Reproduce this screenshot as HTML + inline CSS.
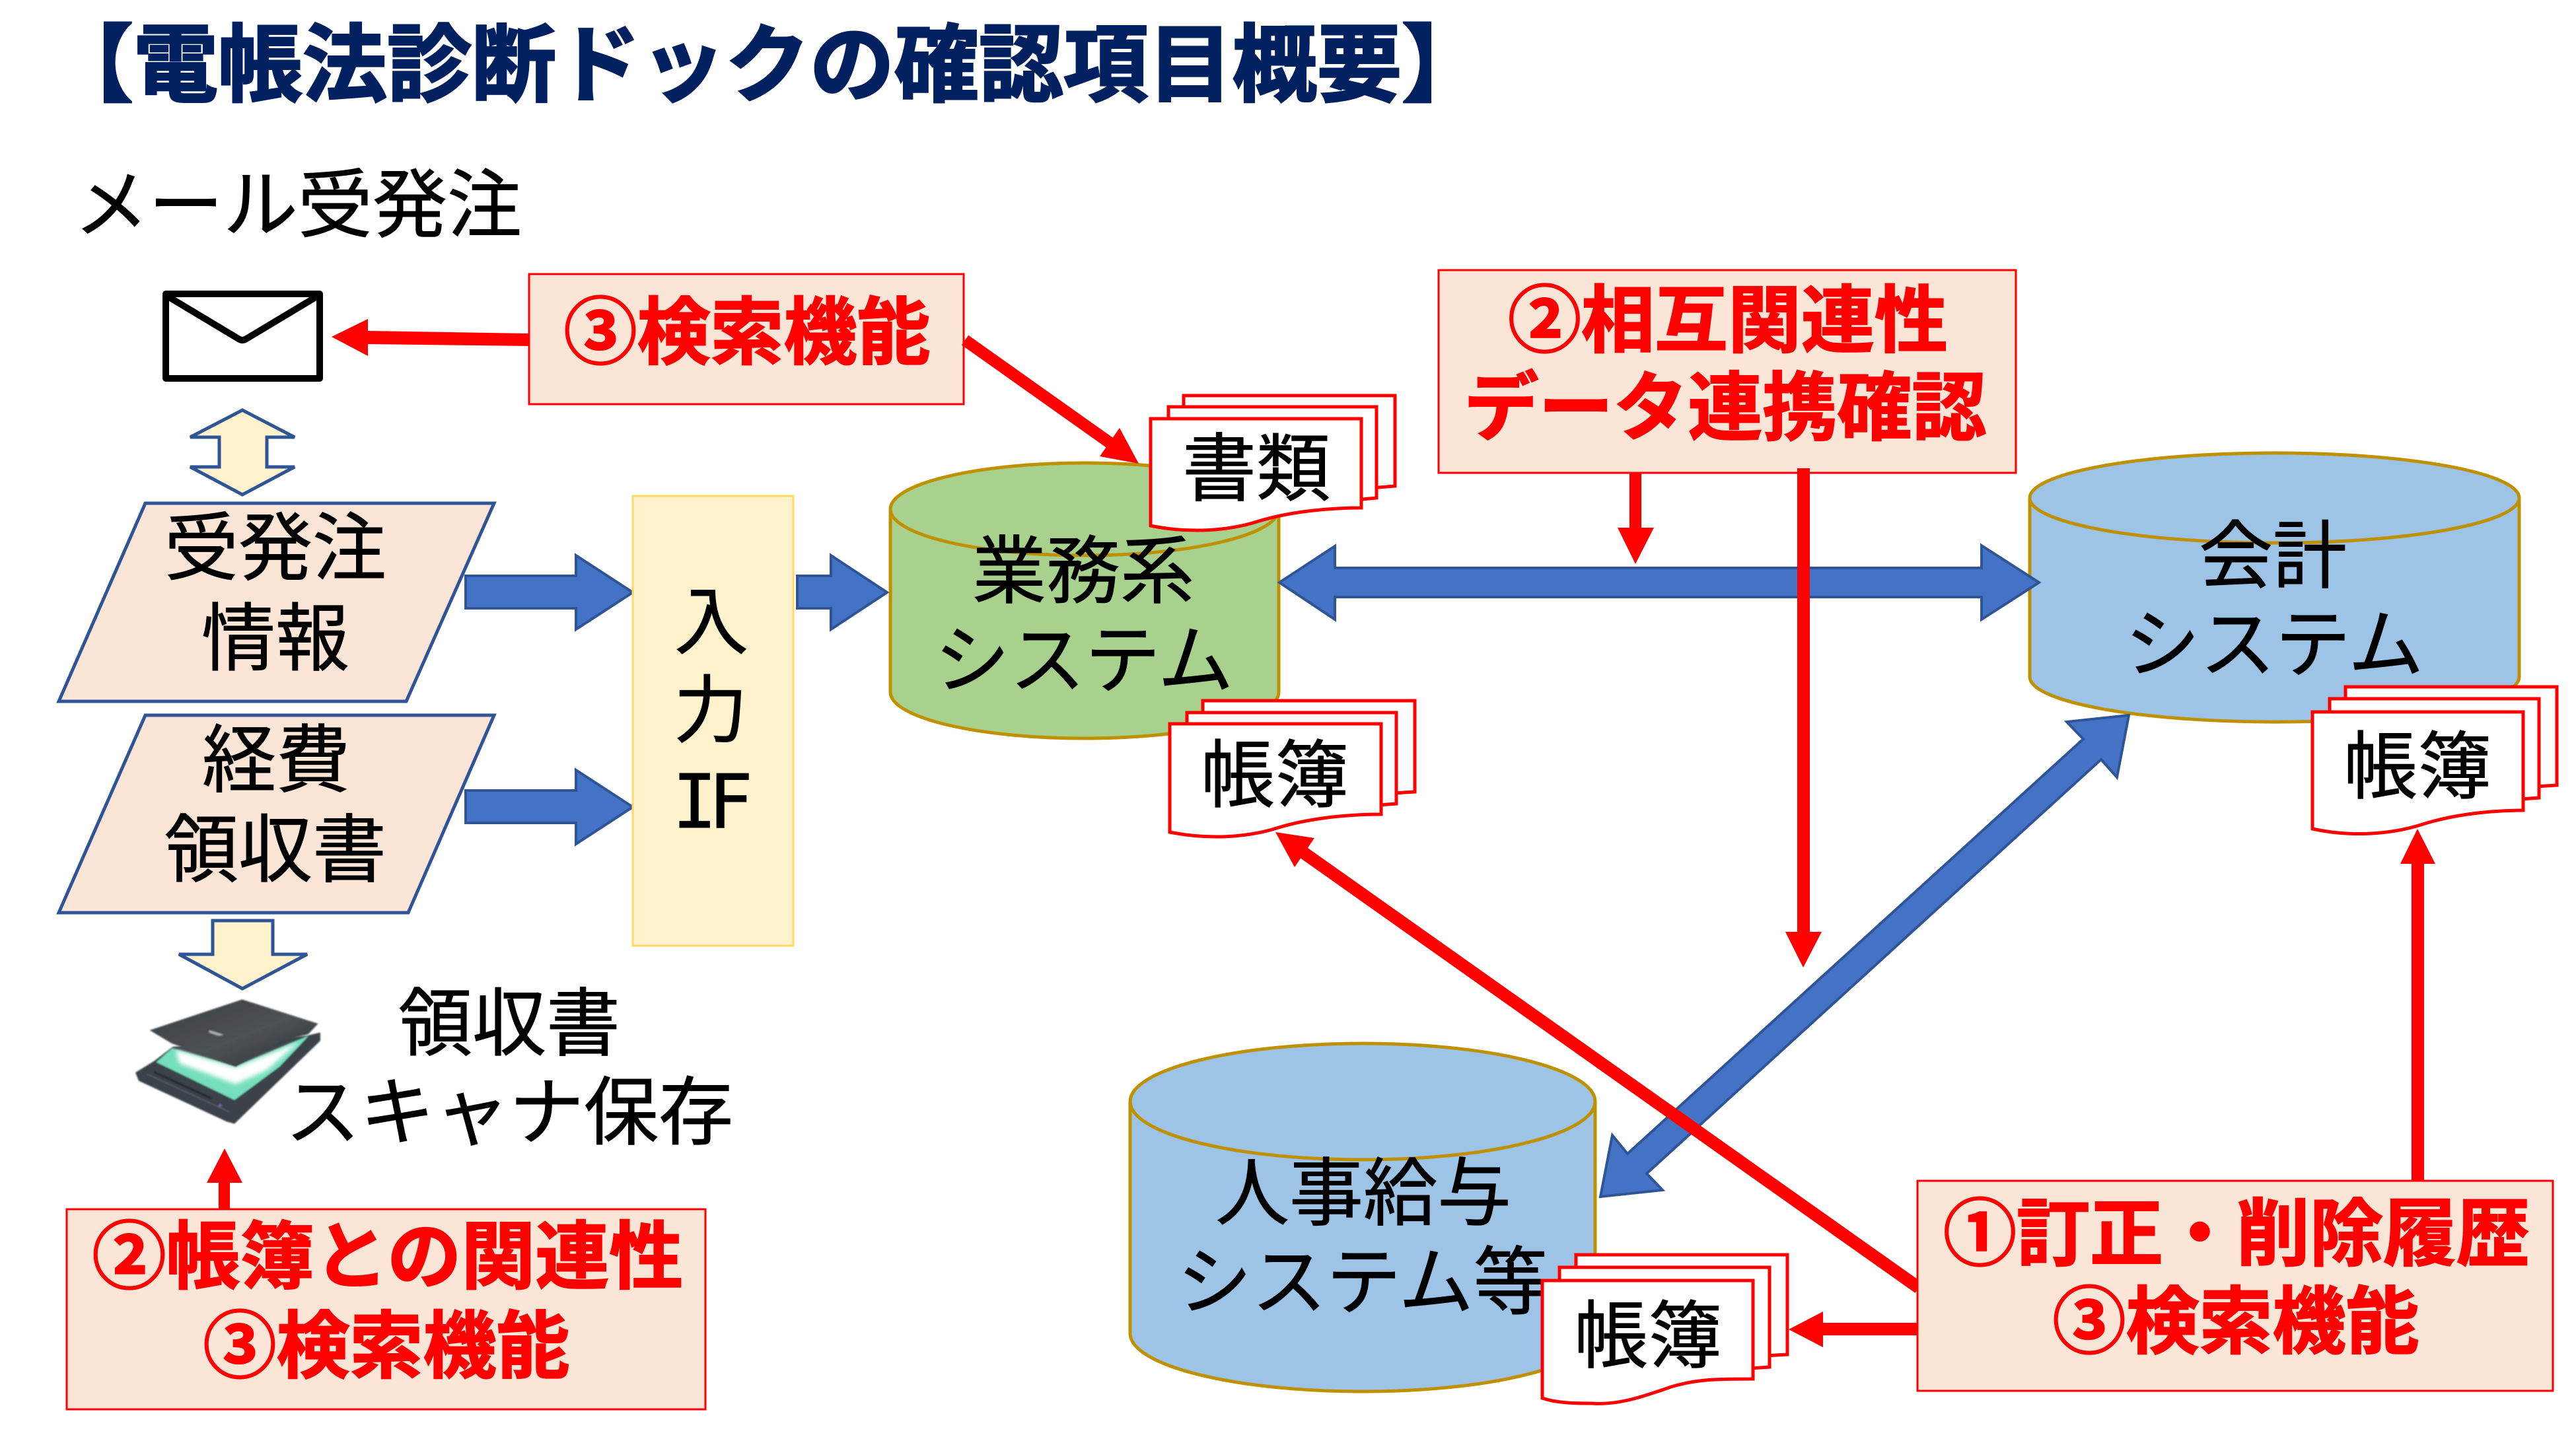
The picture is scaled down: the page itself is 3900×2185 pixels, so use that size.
<!DOCTYPE html>
<html lang="ja">
<head>
<meta charset="utf-8">
<title>電帳法診断ドックの確認項目概要</title>
<style>
html,body{margin:0;padding:0;background:#fff;width:3900px;height:2185px;overflow:hidden}
svg{display:block}
text{font-family:"Noto Sans CJK JP","Liberation Sans",sans-serif;font-size:112px;fill:#000;stroke:#000;stroke-width:1px;text-anchor:middle}
.k{font-size:114px}
.r{fill:#f00;stroke:#f00;stroke-width:2px;font-weight:700;font-size:111px}
.box{fill:#FBE5D6;stroke:#f00;stroke-width:3}
.par{fill:#FBE5D6;stroke:#2F5597;stroke-width:5;stroke-linejoin:miter}
.yel{fill:#FFF2CC;stroke:#2F5597;stroke-width:5;stroke-linejoin:miter}
.blue{fill:#4472C4;stroke:#2F5597;stroke-width:4;stroke-linejoin:miter}
.red{fill:#f00}
.doc{fill:#fff;stroke:#f00;stroke-width:5;stroke-linejoin:miter}
.cyl{stroke:#BF9000;stroke-width:5}
</style>
</head>
<body>
<svg width="3900" height="2185" viewBox="0 0 3900 2185" xmlns="http://www.w3.org/2000/svg">
<defs>
<filter id="b1" x="-10%" y="-10%" width="120%" height="120%"><feGaussianBlur stdDeviation="3.5"/></filter>
<filter id="b2" x="-20%" y="-20%" width="140%" height="140%"><feGaussianBlur stdDeviation="10"/></filter>
<linearGradient id="lid" x1="0" y1="0" x2="1" y2="1"><stop offset="0" stop-color="#383d44"/><stop offset=".55" stop-color="#4d5254"/><stop offset="1" stop-color="#2c3136"/></linearGradient>
</defs>

<!-- title -->
<text x="74" y="143" style="font-size:128px;font-weight:700;fill:#002060;stroke:#002060;stroke-width:3px;text-anchor:start">【電帳法診断ドックの確認項目概要】</text>

<text x="451" y="350" style="font-size:113px">メール受発注</text>

<!-- envelope -->
<rect x="251" y="445" width="233" height="128" fill="#fff" stroke="#000" stroke-width="10" stroke-linejoin="round"/>
<path d="M251,447 L361,513 Q367,517 373,513 L483,447" fill="none" stroke="#000" stroke-width="10" stroke-linejoin="round"/>

<!-- red arrow to envelope -->
<polygon class="red" points="502,510 557,483 557,501 803,505 803,524 557,521 557,539"/>

<!-- top search box -->
<rect class="box" x="801" y="415" width="658" height="197"/>
<text class="r" x="1131" y="542">③検索機能</text>

<!-- up-down arrow -->
<polygon class="yel" points="367,621 446,662 404,662 404,707 446,707 367,749 288,707 332,707 332,662 288,662"/>

<!-- parallelograms -->
<polygon class="par" points="220,762 748,762 615,1062 89,1062"/>
<text x="417" y="869">受発注</text>
<text x="417" y="1006">情報</text>
<polygon class="par" points="220,1083 748,1083 618,1382 89,1382"/>
<text x="418" y="1190">経費</text>
<text x="417" y="1326">領収書</text>

<!-- blue arrows left -->
<polygon class="blue" points="705,872 872,872 872,841 958,897 872,953 872,921 705,921"/>
<polygon class="blue" points="705,1197 872,1197 872,1166 958,1222 872,1278 872,1246 705,1246"/>

<!-- input IF -->
<rect x="958" y="751" width="243" height="681" fill="#FFF2CC" stroke="#FFD966" stroke-width="3"/>
<text x="1077" y="981">入</text>
<text x="1076" y="1115">力</text>
<text x="1018" y="1253" style="font-family:'DejaVu Sans Mono','Liberation Mono',monospace;font-size:112px;text-anchor:start;letter-spacing:-13px">IF</text>

<polygon class="blue" points="1207,872 1258,872 1258,841 1343,897 1258,953 1258,921 1207,921"/>

<!-- green cylinder -->
<path class="cyl" fill="#A9D18E" d="M1348,771 A294,70 0 0 1 1936,771 V1048 A294,70 0 0 1 1348,1048 Z"/>
<path class="cyl" fill="none" d="M1348,771 A294,70 0 0 0 1936,771"/>
<text x="1640" y="904">業務系</text>
<text class="k" x="1641" y="1040">システム</text>

<!-- blue cylinder: accounting -->
<path class="cyl" fill="#9DC3E6" d="M3073,754 A370,68 0 0 1 3814,754 V1025 A370,68 0 0 1 3073,1025 Z"/>
<path class="cyl" fill="none" d="M3073,754 A370,68 0 0 0 3814,754"/>
<text x="3441" y="881">会計</text>
<text class="k" x="3443" y="1016">システム</text>

<!-- blue cylinder: HR -->
<path class="cyl" fill="#9DC3E6" d="M1711,1668 A352,88 0 0 1 2415,1668 V2019 A352,88 0 0 1 1711,2019 Z"/>
<path class="cyl" fill="none" d="M1711,1668 A352,88 0 0 0 2415,1668"/>
<text x="2064" y="1846">人事給与</text>
<text x="2063" y="1981" style="font-size:113px">システム等</text>

<!-- doc stack: 書類 -->
<polygon class="doc" points="1792,599 2112,599 2112,736 2040,742 1792,742"/>
<polygon class="doc" points="1769,616 2084,616 2084,754 2040,758 1769,758"/>
<path class="doc" d="M1742,634 H2061 V769 C2001,769 1946,777 1906,789 C1860,804 1800,808 1742,796 Z"/>
<text x="1902" y="749">書類</text>

<!-- doc stack: 帳簿 green -->
<polygon class="doc" points="1821,1061 2142,1061 2142,1199 2060,1204 1821,1204"/>
<polygon class="doc" points="1797,1079 2114,1079 2114,1217 2060,1221 1797,1221"/>
<path class="doc" d="M1771,1096 H2091 V1233 C2031,1233 1976,1241 1936,1253 C1890,1268 1830,1272 1771,1260 Z"/>
<text x="1930" y="1213">帳簿</text>

<!-- doc stack: 帳簿 accounting -->
<polygon class="doc" points="3551,1040 3871,1040 3871,1189 3790,1194 3551,1194"/>
<polygon class="doc" points="3527,1058 3844,1058 3844,1208 3790,1212 3527,1212"/>
<path class="doc" d="M3501,1078 H3820 V1227 C3760,1227 3705,1236 3665,1249 C3620,1263 3560,1268 3501,1255 Z"/>
<text x="3660" y="1200">帳簿</text>

<!-- doc stack: 帳簿 HR -->
<polygon class="doc" points="2386,1900 2706,1900 2706,2051 2620,2056 2386,2056"/>
<polygon class="doc" points="2361,1919 2679,1919 2679,2070 2620,2074 2361,2074"/>
<path class="doc" d="M2335,1939 H2654 V2088 C2600,2088 2570,2088 2530,2100 C2490,2114 2450,2128 2410,2125 C2380,2125 2355,2124 2335,2117 Z"/>
<text x="2495" y="2062">帳簿</text>

<!-- scanner -->
<g transform="translate(190,1500) scale(.3333)">
 <g filter="url(#b1)">
  <polygon fill="#3b434a" points="45,372 130,320 215,255 820,205 885,190 885,228 495,605 460,595 60,410"/>
  <polygon fill="#74dfbd" points="140,325 212,262 500,345 832,205 700,345 495,497"/>
 </g>
 <polygon fill="#fff" points="228,268 500,350 790,232 640,362 500,425 245,330" filter="url(#b2)"/>
 <g filter="url(#b1)">
  <polygon fill="url(#lid)" points="110,180 530,40 875,150 830,198 700,232 500,345 210,240"/>
  <polyline points="130,370 390,490" fill="none" stroke="#20262b" stroke-width="8"/>
  <polyline points="100,380 470,550" fill="none" stroke="#596168" stroke-width="5"/>
  <circle cx="430" cy="522" r="8" fill="#7a5fb0"/>
  <polygon points="380,180 445,200 425,205 380,190" fill="#aeb3b4"/>
 </g>
</g>
<text x="771" y="1589">領収書</text>
<text x="771" y="1724" style="font-size:113px">スキャナ保存</text>

<!-- down arrow -->
<polygon class="yel" points="322,1394 413,1394 413,1445 465,1445 367,1497 271,1445 322,1445"/>

<!-- up red arrow to scanner -->
<polygon class="red" points="340,1739 367,1791 348,1791 348,1833 331,1833 331,1791 313,1791"/>

<!-- bottom left box -->
<rect class="box" x="101" y="1831" width="967" height="303"/>
<text class="r" x="587" y="1942" style="font-size:112px">②帳簿との関連性</text>
<text class="r" x="585" y="2077">③検索機能</text>

<!-- blue double arrows -->
<polygon class="blue" points="1937,882 2021,827 2021,860 3000,860 3000,826 3087,882 3000,938 3000,904 2021,904 2021,938"/>
<polygon class="blue" points="3223,1083 3129,1093 3154,1119 2464,1747 2441,1719 2423,1812 2517,1802 2493,1777 3181,1150 3205,1177"/>

<!-- red lines & arrows -->
<line x1="1461" y1="515" x2="1688" y2="676" stroke="#f00" stroke-width="18"/>
<polygon class="red" points="1724,702 1695,648 1665,691"/>

<line x1="1972" y1="1290" x2="2905" y2="1950" stroke="#f00" stroke-width="19"/>
<polygon class="red" points="1931,1260 1990,1269 1960,1313"/>

<polygon class="red" points="2467,714 2485,714 2485,799 2504,799 2476,854 2449,799 2467,799"/>
<polygon class="red" points="2721,709 2740,709 2740,1411 2758,1411 2730,1465 2703,1411 2721,1411"/>

<polygon class="red" points="3660,1255 3687,1308 3670,1308 3670,1790 3651,1790 3651,1308 3634,1308"/>
<polygon class="red" points="2708,2013 2760,1986 2760,2003 2905,2003 2905,2022 2760,2022 2760,2040"/>

<!-- center top box -->
<rect class="box" x="2178" y="409" width="874" height="307"/>
<polygon class="red" points="2721,709 2740,709 2740,720 2721,720"/>
<text class="r" x="2616" y="524">②相互関連性</text>
<text class="r" x="2612" y="657" style="font-size:113px">データ連携確認</text>

<!-- bottom right box -->
<rect class="box" x="2903" y="1788" width="962" height="318"/>
<text class="r" x="3386" y="1907">①訂正・削除履歴</text>
<text class="r" x="3385" y="2040">③検索機能</text>
</svg>
</body>
</html>
